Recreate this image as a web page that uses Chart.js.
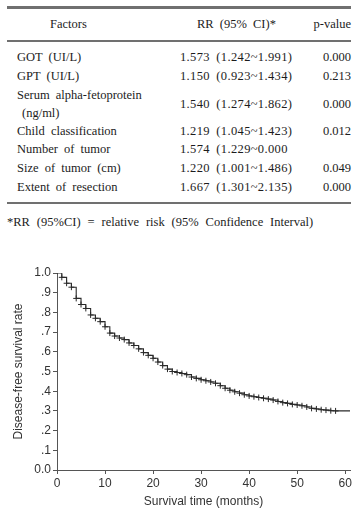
<!DOCTYPE html>
<html>
<head>
<meta charset="utf-8">
<script src="https://cdn.jsdelivr.net/npm/chart.js@4/dist/chart.umd.min.js"></script>
<style>
    html, body { margin: 0; padding: 0; background: #fff; }
    body { width: 355px; height: 517px; position: relative; overflow: hidden;
           font-family: "Liberation Serif", "Times New Roman", serif; font-size: 12.5px; color: #1c1c1c; }
    .t { position: absolute; white-space: nowrap; line-height: 14px; word-spacing: 3px; }
    .v { letter-spacing: 0.35px; }
    .rule { position: absolute; left: 7px; width: 344px; background: #707070; }
    .r { text-align: right; }
    #wrap { position: absolute; left: 0; top: 258px; width: 355px; height: 259px; }
</style>
</head>
<body>
<div class="rule" style="top:6px;height:3px"></div>
<div class="t" style="top:17px;left:50px">Factors</div>
<div class="t" style="top:17px;left:197px">RR (95% CI)*</div>
<div class="t r" style="top:17px;right:4px">p-value</div>
<div class="rule" style="top:40px;height:2px"></div>

<div id="rows"></div>

<div class="rule" style="top:202px;height:2px"></div>
<div class="t" style="top:215px;left:7px;word-spacing:3.8px">*RR (95%CI) = relative risk (95% Confidence Interval)</div>

<div id="wrap"><canvas id="chart"></canvas></div>

<script>
// Table rows
const factors = ['GOT (UI/L)', 'GPT (UI/L)', 'Serum alpha-fetoprotein\n(ng/ml)', 'Child classification',
                 'Number of tumor', 'Size of tumor (cm)', 'Extent of resection'];
const rrValues = ['1.573 (1.242~1.991)', '1.150 (0.923~1.434)', '1.540 (1.274~1.862)', '1.219 (1.045~1.423)',
                  '1.574 (1.229~0.000', '1.220 (1.001~1.486)', '1.667 (1.301~2.135)'];
const pValues = ['0.000', '0.213', '0.000', '0.012', '', '0.049', '0.000'];

// Kaplan-Meier curve (months, disease-free survival rate)
const months = [0, 1, 2, 3, 4, 5, 6, 7, 8, 9, 10, 11, 12, 13, 14, 15, 16, 17, 18, 19, 20,
                21, 22, 23, 24, 25, 26, 27, 28, 29, 30, 31, 32, 33, 34, 35, 36, 37, 38, 39, 40,
                41, 42, 43, 44, 45, 46, 47, 48, 49, 50, 51, 52, 53, 54, 55, 56, 57, 58, 61];
const survival = [1.000, 0.978, 0.948, 0.928, 0.871, 0.840, 0.820, 0.787, 0.770, 0.753, 0.727,
                  0.695, 0.680, 0.670, 0.662, 0.645, 0.632, 0.615, 0.596, 0.582, 0.567,
                  0.548, 0.530, 0.512, 0.500, 0.495, 0.490, 0.484, 0.472, 0.465, 0.458,
                  0.453, 0.447, 0.440, 0.428, 0.415, 0.405, 0.397, 0.390, 0.382, 0.376,
                  0.372, 0.368, 0.364, 0.360, 0.355, 0.348, 0.342, 0.338, 0.333, 0.330,
                  0.326, 0.320, 0.313, 0.310, 0.306, 0.304, 0.301, 0.300, 0.298];

const xTicks = [0, 10, 20, 30, 40, 50, 60];
const yTickLabels = ['0.0', '.1', '.2', '.3', '.4', '.5', '.6', '.7', '.8', '.9', '1.0'];

// Build table rows
const rowTops = [50, 69, 88, 124, 142, 161, 180];
const rowsEl = document.getElementById('rows');
factors.forEach((f, i) => {
    const top = rowTops[i];
    const lines = f.split('\n');
    lines.forEach((line, j) => {
        const d = document.createElement('div');
        d.className = 't';
        d.style.top = (top + j * 18) + 'px';
        d.style.left = (j === 0 ? 17 : 22) + 'px';
        d.textContent = line;
        rowsEl.appendChild(d);
    });
    const off = lines.length > 1 ? 9 : 0;
    const v = document.createElement('div');
    v.className = 't v';
    v.style.top = (top + off) + 'px';
    v.style.left = '180px';
    v.textContent = rrValues[i];
    rowsEl.appendChild(v);
    const p = document.createElement('div');
    p.className = 't r';
    p.style.top = (top + off) + 'px';
    p.style.right = '4px';
    p.textContent = pValues[i];
    rowsEl.appendChild(p);
});

Chart.defaults.color = '#333';
Chart.defaults.font.family = '"Liberation Sans", Arial, sans-serif';
Chart.defaults.font.size = 12;

const axisColor = '#555';
const lastIdx = months.length - 1;

new Chart(document.getElementById('chart').getContext('2d'), {
    type: 'line',
    data: {
        datasets: [{
            data: months.map((m, i) => ({ x: m, y: survival[i] })),
            stepped: true,
            borderColor: '#2a2a2a',
            borderWidth: 1.1,
            pointStyle: 'cross',
            pointRadius: ctx => (ctx.dataIndex === 0 || ctx.dataIndex === lastIdx) ? 0 : 3,
            pointBorderColor: '#2a2a2a',
            pointBorderWidth: 1,
            fill: false
        }]
    },
    options: {
        responsive: true,
        maintainAspectRatio: false,
        animation: false,
        events: [],
        layout: { padding: { top: 15, right: 5, left: 0, bottom: 0 } },
        plugins: { legend: { display: false }, tooltip: { enabled: false } },
        scales: {
            x: {
                type: 'linear',
                min: 0,
                max: 61,
                offset: false,
                afterBuildTicks: scale => { scale.ticks = xTicks.map(v => ({ value: v })); },
                afterFit: scale => { scale.height = 47; },
                ticks: { padding: 2, maxRotation: 0 },
                grid: { drawOnChartArea: false, drawTicks: true, tickLength: 4, color: axisColor },
                border: { display: true, color: axisColor, width: 1 },
                title: { display: true, text: 'Survival time (months)', padding: { top: 4, bottom: 8 } }
            },
            y: {
                type: 'linear',
                min: 0,
                max: 1,
                ticks: {
                    stepSize: 0.1,
                    padding: 2,
                    callback: (value, index) => yTickLabels[index]
                },
                afterFit: scale => { scale.width = 57; },
                grid: { drawOnChartArea: false, drawTicks: true, tickLength: 4, color: axisColor },
                border: { display: true, color: axisColor, width: 1 },
                title: { display: true, text: 'Disease-free survival rate', padding: { top: 11, bottom: 0 } }
            }
        }
    }
});
</script>
</body>
</html>
